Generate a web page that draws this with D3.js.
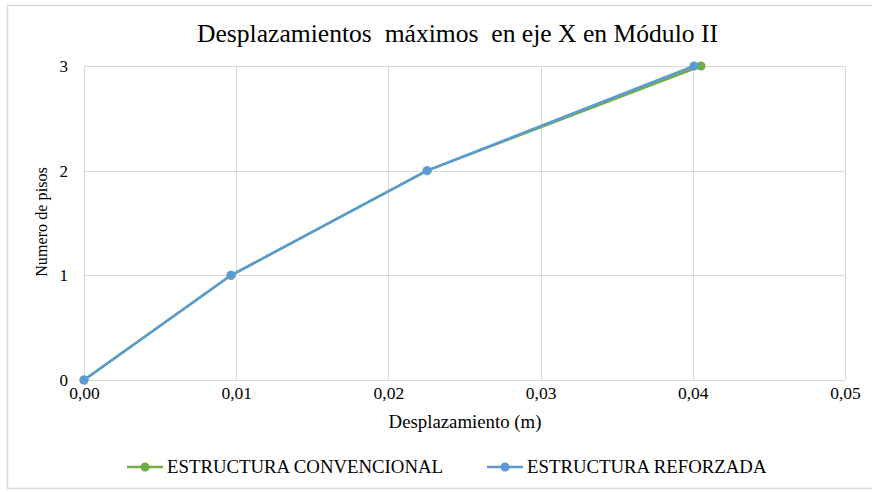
<!DOCTYPE html>
<html><head><meta charset="utf-8">
<script src="https://cdn.jsdelivr.net/npm/d3@7"></script>
<style>
body{margin:0;background:#fff}
svg{display:block}
svg text{font-family:"Liberation Serif", Tinos, "Times New Roman", serif !important}
</style>
</head><body>
<script>
const title = "Desplazamientos  máximos  en eje X en Módulo II";
const xTitle = "Desplazamiento (m)";
const yTitle = "Numero de pisos";
const pisos = [0, 1, 2, 3];
const convencional = [0, 0.00966, 0.02254, 0.04054];
const reforzada = [0, 0.00966, 0.02254, 0.04008];
const seriesNames = ["ESTRUCTURA CONVENCIONAL", "ESTRUCTURA REFORZADA"];
const colors = ["#70ad47", "#5b9bd5"];
const xTicks = [0, 0.01, 0.02, 0.03, 0.04, 0.05];
const yTicks = [0, 1, 2, 3];

const FONT = "Liberation Serif";
const W = 872, H = 492;
const svg = d3.select("body").append("svg").attr("width", W).attr("height", H)
  .attr("font-family", FONT);
svg.append("rect").attr("x", 7.5).attr("y", 5.5).attr("width", 870).attr("height", 483)
  .attr("fill", "#fff").attr("stroke", "#d9d9d9").attr("stroke-width", 1.5);

const m = {l: 84, r: 845, t: 66, b: 380};
const x = d3.scaleLinear().domain([0, 0.05]).range([m.l, m.r]);
const y = d3.scaleLinear().domain([0, 3]).range([m.b, m.t]);

const g = svg.append("g");
g.selectAll(".vg").data(xTicks).join("line")
  .attr("x1", d => Math.round(x(d)) + 0.5).attr("x2", d => Math.round(x(d)) + 0.5)
  .attr("y1", m.t).attr("y2", m.b).attr("stroke", "#d9d9d9");
g.selectAll(".hg").data(yTicks).join("line")
  .attr("y1", d => Math.round(y(d)) + 0.5).attr("y2", d => Math.round(y(d)) + 0.5)
  .attr("x1", m.l).attr("x2", m.r).attr("stroke", "#d9d9d9");

const fmt = d => d3.format(".2f")(d).replace(".", ",");
const xAxis = g.append("g").attr("transform", `translate(0,${m.b})`)
  .call(d3.axisBottom(x).tickValues(xTicks).tickFormat(fmt).tickSize(0).tickPadding(7));
xAxis.select(".domain").remove();
xAxis.attr("font-family", FONT).attr("font-size", 17.5);
xAxis.selectAll("text").attr("fill", "#000").style("font-family", FONT);
const yAxis = g.append("g").attr("transform", `translate(${m.l},0)`)
  .call(d3.axisLeft(y).tickValues(yTicks).tickFormat(d3.format("d")).tickSize(0).tickPadding(16));
yAxis.select(".domain").remove();
yAxis.attr("font-family", FONT).attr("font-size", 17);
yAxis.selectAll("text").attr("fill", "#000").style("font-family", FONT);

svg.append("text").attr("x", 457.5).attr("y", 42).attr("text-anchor", "middle")
  .attr("xml:space", "preserve")
  .attr("font-family", FONT).style("font-family", FONT).attr("font-size", 25.6).attr("fill", "#000").text(title);
svg.append("text").attr("x", 465).attr("y", 428).attr("text-anchor", "middle")
  .attr("font-family", FONT).style("font-family", FONT).attr("font-size", 18.8).attr("fill", "#000").text(xTitle);
svg.append("text").attr("transform", "translate(47,222) rotate(-90)").attr("text-anchor", "middle")
  .attr("font-family", FONT).style("font-family", FONT).attr("font-size", 16.2).attr("fill", "#000").text(yTitle);

const data = [convencional, reforzada];
const line = d3.line().x(d => x(d[0])).y(d => y(d[1]));
data.forEach((vals, i) => {
  const pts = vals.map((v, j) => [v, pisos[j]]);
  svg.append("path").datum(pts).attr("d", line).attr("fill", "none")
    .attr("stroke", colors[i]).attr("stroke-width", 2.5).attr("stroke-linecap", "round");
  svg.selectAll(".p" + i).data(pts).join("circle")
    .attr("cx", d => x(d[0])).attr("cy", d => y(d[1])).attr("r", 4.5).attr("fill", colors[i]);
});

const leg = [{x: 127, tx: 167}, {x: 487, tx: 527}];
seriesNames.forEach((n, i) => {
  const lg = svg.append("g");
  lg.append("line").attr("x1", leg[i].x).attr("x2", leg[i].x + 36).attr("y1", 467).attr("y2", 467)
    .attr("stroke", colors[i]).attr("stroke-width", 2.5);
  lg.append("circle").attr("cx", leg[i].x + 18).attr("cy", 467).attr("r", 4.5).attr("fill", colors[i]);
  lg.append("text").attr("x", leg[i].tx).attr("y", 473).attr("font-family", FONT).style("font-family", FONT)
    .attr("font-size", 18.8).attr("fill", "#000").text(n);
});
</script>
</body></html>
